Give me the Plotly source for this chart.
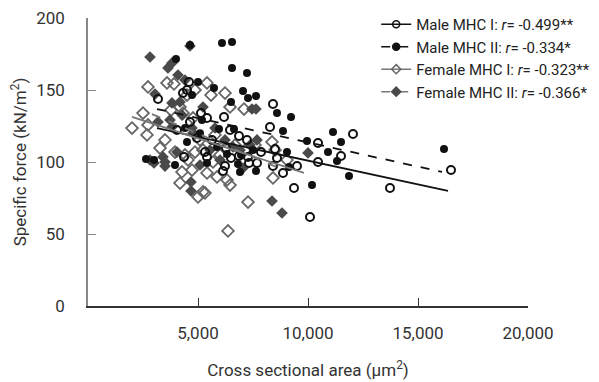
import plotly.graph_objects as go

# ---- data ----
male_I_x = [3182, 4318, 4500, 4591, 5136, 5409, 6182, 6864, 7227, 8409, 8273, 8500, 7864, 7273,
            7682, 7318, 8409, 8591, 8864, 9500, 9364, 10455, 10455, 11500, 6136, 6227, 6500, 6864,
            5318, 5409, 4045, 4955, 12045, 13727, 16500, 10091, 4364, 6273, 5636, 6455, 4636]
male_I_y = [143.8, 147.9, 150.0, 155.6, 134.0, 130.6, 131.3, 118.1, 115.3, 140.3, 124.3, 109.0, 106.9, 103.5,
            99.3, 99.3, 97.2, 102.8, 92.4, 97.2, 81.9, 113.2, 100.0, 104.2, 93.8, 97.2, 102.8, 104.2,
            106.9, 103.5, 122.2, 116.7, 119.4, 81.9, 94.4, 61.8, 103.5, 109.7, 115.3, 122.2, 127.8]

male_II_x = [6090, 6545, 6545, 7227, 7045, 7273, 7636, 5727, 6500, 8590, 9227, 8864, 5955, 6636,
             9955, 4636, 4000, 4727, 5000, 4409, 5182, 11136, 11500, 10909, 11318, 11864, 16182, 10182,
             9045, 6909, 7636, 6818, 9136, 6955, 3000, 3955, 4500, 2636, 5090, 5864, 6318, 5409, 7500]
male_II_y = [182.6, 183.3, 165.3, 161.8, 149.3, 144.4, 145.8, 151.4, 141.7, 134.0, 131.3, 121.5, 122.9, 122.9,
             114.6, 181.3, 171.5, 146.5, 155.6, 123.6, 129.2, 120.8, 113.9, 106.9, 100.7, 90.3, 109.0, 84.0,
             106.9, 93.1, 93.8, 98.6, 96.5, 104.9, 101.4, 97.9, 113.9, 102.1, 120.0, 110.4, 105.6, 99.3, 108.3]

female_I_x = [2000, 2500, 2727, 2682, 2727, 3591, 3909, 4864, 5409, 3773, 4182, 4318, 4773, 4500,
              5591, 6227, 6455, 7091, 8364, 3955, 4409, 4864, 5227, 5409, 4273, 4727, 4182, 5000,
              5227, 4545, 5864, 6318, 6455, 5318, 7273, 6364, 8409, 5682, 8500, 9045, 3273, 3500,
              5773, 5091, 6682, 7136, 7591, 6000]
female_I_y = [123.6, 134.0, 152.1, 118.8, 125.7, 154.9, 154.2, 150.0, 154.9, 136.1, 138.2, 134.0, 130.6, 146.5,
              146.5, 147.9, 138.2, 136.8, 113.9, 106.9, 104.9, 106.9, 108.3, 92.4, 93.1, 94.4, 85.4, 75.7,
              79.2, 101.4, 89.6, 87.5, 84.0, 78.5, 72.2, 52.1, 88.9, 100.0, 108.3, 101.4, 109.7, 115.3,
              118.8, 115.3, 111.8, 108.3, 111.8, 104.9]

female_II_x = [2818, 3636, 3818, 4091, 4409, 4636, 3045, 3818, 4182, 5227, 3182, 3727, 3818, 4273,
               4727, 4773, 7455, 7636, 7682, 10000, 2818, 3000, 3409, 3500, 3500, 4045, 4682, 4682,
               8364, 8818, 7045, 6591, 5773, 6227, 5545, 6909, 7364, 6000, 5091]
female_II_y = [172.9, 165.3, 168.8, 160.4, 156.9, 180.6, 147.2, 141.0, 141.7, 138.2, 127.8, 129.2, 124.3, 132.6,
               123.6, 120.1, 136.8, 136.8, 115.3, 106.3, 101.4, 99.3, 103.5, 100.0, 97.2, 106.9, 86.1, 79.9,
               72.9, 64.6, 95.8, 110.4, 123.6, 115.3, 108.3, 108.3, 111.8, 101.4, 97.9]

# regression line end points (x, y)
fit_male_I_x = [3136, 16364]
fit_male_I_y = [123.6, 79.9]
fit_male_II_x = [3136, 16091]
fit_male_II_y = [136.8, 93.1]
fit_female_I_x = [2000, 9818]
fit_female_I_y = [131.3, 92.4]
fit_female_II_x = [2909, 8800]
fit_female_II_y = [133.3, 95.0]

series_names = ["Male MHC I: <i>r</i>= -0.499**",
                "Male MHC II: <i>r</i>= -0.334*",
                "Female MHC I: <i>r</i>= -0.323**",
                "Female MHC II: <i>r</i>= -0.366*"]

x_tick_vals = [5000, 10000, 15000, 20000]
x_tick_text = ["5,000", "10,000", "15,000", "20,000"]
y_tick_vals = [0, 50, 100, 150, 200]
y_tick_text = ["0", "50", "100", "150", "200"]

FONT = "Roboto, Liberation Sans, sans-serif"
BLACK = "#111111"
GRAY = "#666666"
DGRAY = "#4a4a4a"

fig = go.Figure()

# scatter points (not in legend)
fig.add_trace(go.Scatter(x=female_I_x, y=female_I_y, mode="markers", showlegend=False,
                         marker=dict(symbol="diamond-open", size=9, color=GRAY, line=dict(width=1.8, color=GRAY))))
fig.add_trace(go.Scatter(x=female_II_x, y=female_II_y, mode="markers", showlegend=False,
                         marker=dict(symbol="diamond", size=9, color=DGRAY, line=dict(width=0))))
fig.add_trace(go.Scatter(x=male_I_x, y=male_I_y, mode="markers", showlegend=False,
                         marker=dict(symbol="circle-open", size=8, color=BLACK, line=dict(width=2, color=BLACK))))
fig.add_trace(go.Scatter(x=male_II_x, y=male_II_y, mode="markers", showlegend=False,
                         marker=dict(symbol="circle", size=8, color=BLACK, line=dict(width=0))))

# regression lines
fits = [
    (fit_male_I_x, fit_male_I_y, BLACK, "solid", "circle-open", BLACK),
    (fit_male_II_x, fit_male_II_y, BLACK, "dash", "circle", BLACK),
    (fit_female_I_x, fit_female_I_y, "#777777", "solid", "diamond-open", GRAY),
    (fit_female_II_x, fit_female_II_y, "#777777", "dash", "diamond", DGRAY),
]
for (fx, fy, col, dash, sym, mcol), name in zip(fits, series_names):
    fig.add_trace(go.Scatter(x=fx, y=fy, mode="lines", name=name, showlegend=False,
                             line=dict(color=col, width=1.8, dash=dash)))
    # legend entry: line + marker
    fig.add_trace(go.Scatter(x=[None], y=[None], mode="lines+markers", name=name,
                             line=dict(color=col, width=1.5, dash=dash),
                             marker=dict(symbol=sym, size=7, color=mcol,
                                         line=dict(width=1.5, color=mcol))))

# the page body adds an 8px offset, so the figure is sized/margined to compensate
fig.update_layout(
    width=591, height=374,
    margin=dict(l=80, r=71, t=10, b=76, autoexpand=False),
    paper_bgcolor="white", plot_bgcolor="white",
    font=dict(family=FONT, size=17, color="#333333"),
    legend=dict(x=0.655, y=1.035, xanchor="left", yanchor="top",
                font=dict(family=FONT, size=15, color="#222222"),
                bgcolor="rgba(0,0,0,0)", tracegroupgap=0, itemwidth=30),
    xaxis=dict(range=[0, 20000], tickvals=x_tick_vals, ticktext=x_tick_text,
               showgrid=False, zeroline=False, showline=True, linecolor="#333333", linewidth=1.5,
               ticks="inside", ticklen=8, tickcolor="#333333", tickwidth=1.2,
               ticklabelstandoff=11, automargin=False, ticklabeloverflow="allow",
               title=dict(text="Cross sectional area (μm<sup>2</sup>)", standoff=22,
                          font=dict(family=FONT, size=17, color="#333333"))),
    yaxis=dict(range=[0, 200], tickvals=y_tick_vals, ticktext=y_tick_text,
               showgrid=False, zeroline=False, showline=True, linecolor="#888888", linewidth=1.5,
               ticks="inside", ticklen=8, tickcolor="#888888", tickwidth=1.2,
               ticklabelstandoff=18, automargin=False, ticklabeloverflow="allow",
               title=dict(text="Specific force (kN/m<sup>2</sup>)", standoff=15,
                          font=dict(family=FONT, size=17, color="#333333"))),
)

fig.write_html("out.html")
